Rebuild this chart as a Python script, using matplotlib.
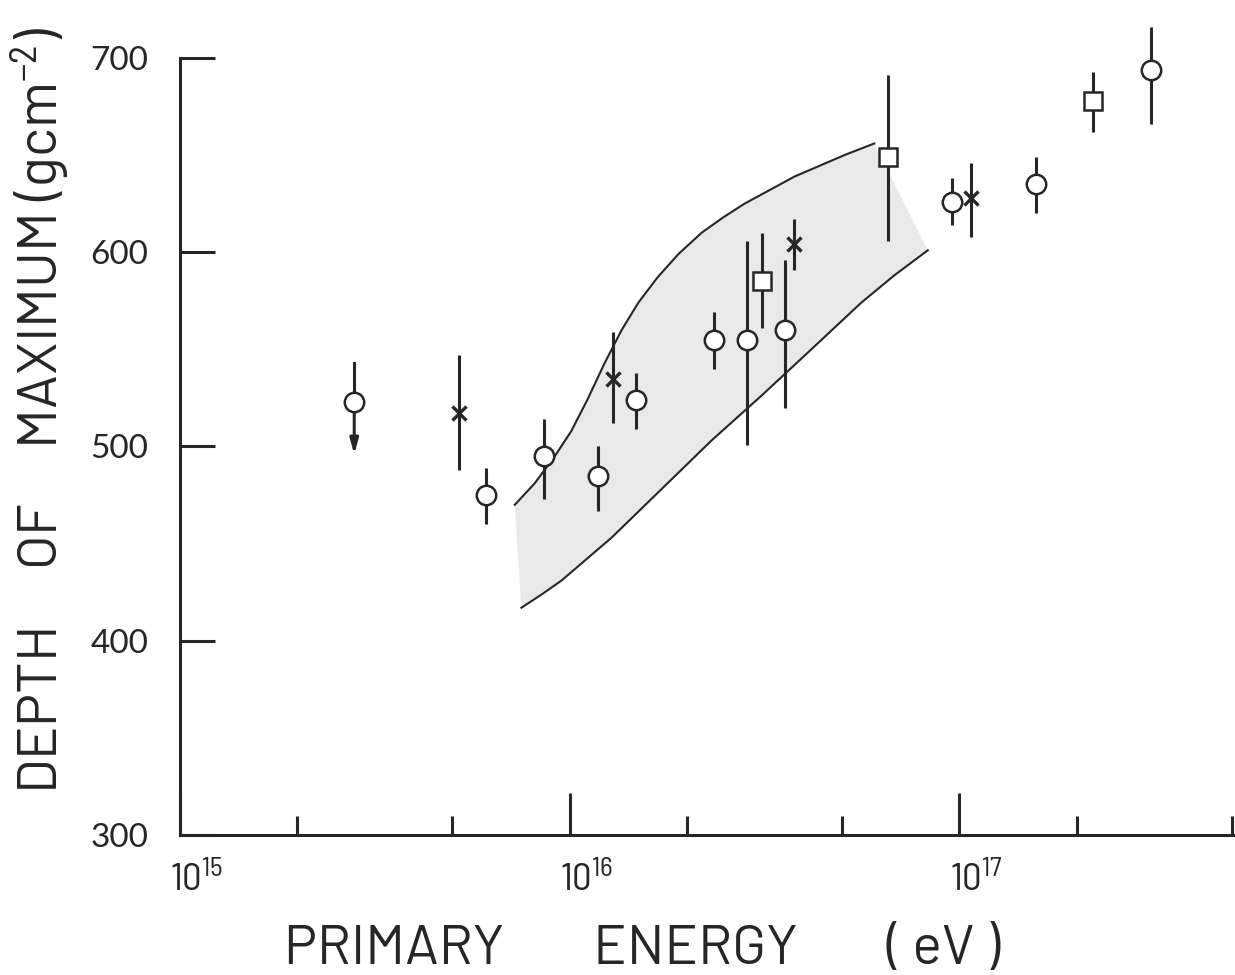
import matplotlib
matplotlib.use("Agg")
import matplotlib.pyplot as plt
from matplotlib import font_manager
from matplotlib.patches import Polygon
from matplotlib.ticker import FixedLocator, NullFormatter
from matplotlib.transforms import ScaledTranslation

# depth of shower maximum vs primary energy
# open circles
circle_E = [6.1e15, 8.6e15, 1.18e16, 1.48e16, 2.34e16, 2.86e16, 3.58e16, 9.55e16, 1.57e17, 3.11e17]
circle_X = [475, 495, 485, 524, 555, 555, 560, 626, 635, 694]
circle_hi = [489, 514, 500, 538, 569, 606, 596, 638, 649, 716]
circle_lo = [460, 473, 467, 509, 540, 501, 520, 614, 620, 666]

# upper limit (open circle with arrow)
limit_E = [2.8e15]
limit_X = [523]
limit_hi = [543]
limit_to = [496]

# crosses
cross_E = [5.2e15, 1.29e16, 3.76e16, 1.07e17]
cross_X = [517, 535, 604, 628]
cross_hi = [547, 559, 617, 646]
cross_lo = [488, 512, 591, 608]

# squares
square_E = [3.12e16, 6.55e16, 2.21e17]
square_X = [585, 649, 678]
square_hi = [610, 691, 693]
square_lo = [561, 606, 662]

# model band: upper and lower edges
band_up_E = [7.23e15, 8.13e15, 9.16e15, 1.01e16, 1.11e16, 1.23e16, 1.36e16, 1.50e16,
             1.68e16, 1.90e16, 2.18e16, 2.48e16, 2.81e16, 3.78e16, 5.07e16, 6.05e16]
band_up_X = [470, 481, 495, 508, 524, 543, 560, 574, 587, 599, 610, 618, 625, 639, 650, 656]
band_lo_E = [7.52e15, 8.5e15, 9.53e15, 1.28e16, 1.72e16, 2.31e16, 3.10e16, 4.17e16,
             5.60e16, 6.8e16, 8.30e16]
band_lo_X = [417, 424, 431, 453, 478, 503, 526, 550, 574, 588, 601]

x_major = [1e15, 1e16, 1e17]
x_major_labels = ["$10^{15}$", "$10^{16}$", "$10^{17}$"]
x_minor = [2e15, 5e15, 2e16, 5e16, 2e17, 5e17]
y_ticks = [300, 400, 500, 600, 700]

installed = {f.name for f in font_manager.fontManager.ttflist}


def pick(names):
    return next((n for n in names if n in installed), "DejaVu Sans")


narrow = pick(["Barlow Semi Condensed", "Roboto Condensed", "Liberation Sans Narrow"])
wide = pick(["Barlow", "Roboto", "Liberation Sans"])
INK = "#262626"

plt.rcParams["mathtext.fontset"] = "custom"
plt.rcParams["mathtext.rm"] = narrow
plt.rcParams["mathtext.it"] = narrow
plt.rcParams["mathtext.default"] = "rm"

fig = plt.figure(figsize=(12.35, 9.75), dpi=100)
ax = fig.add_axes([180 / 1235, 140 / 975, 1055 / 1235, 777 / 975])
ax.set_xscale("log")
ax.set_xlim(1e15, 5.1e17)
ax.set_ylim(300, 700)

# shaded band
band_pts = list(zip(band_up_E, band_up_X)) + list(zip(band_lo_E[::-1], band_lo_X[::-1]))
ax.add_patch(Polygon(band_pts, closed=True, facecolor="#e9e9e9", edgecolor="none", zorder=1))
ax.plot(band_up_E, band_up_X, color=INK, lw=1.5, zorder=2)
ax.plot(band_lo_E, band_lo_X, color=INK, lw=1.5, zorder=2)

arts = []


def draw_points(E, X, lo, hi, marker, ms, mew):
    yerr = [[x - l for x, l in zip(X, lo)], [h - x for x, h in zip(X, hi)]]
    c = ax.errorbar(E, X, yerr=yerr, fmt="none", ecolor=INK, elinewidth=2.2, capsize=0, zorder=3)
    ln, = ax.plot(E, X, linestyle="none", marker=marker, ms=ms, mew=mew,
                  mec=INK, mfc="white" if marker in ("o", "s") else INK, zorder=4)
    arts.extend(c.get_children())
    arts.append(ln)


draw_points(circle_E, circle_X, circle_lo, circle_hi, "o", 14, 1.8)
draw_points(cross_E, cross_X, cross_lo, cross_hi, "x", 10, 2.4)
draw_points(square_E, square_X, square_lo, square_hi, "s", 12.5, 1.8)

# upper-limit point
for e, x, h, t in zip(limit_E, limit_X, limit_hi, limit_to):
    ax.annotate("", xy=(e, t), xytext=(e, x),
                arrowprops=dict(arrowstyle="-|>,head_length=0.9,head_width=0.25",
                                color=INK, lw=2.2, shrinkA=0, shrinkB=0), zorder=3)
    ax.plot([e, e], [x, h], color=INK, lw=2.2, zorder=3)
ln, = ax.plot(limit_E, limit_X, linestyle="none", marker="o", ms=14, mew=1.8,
              mec=INK, mfc="white", zorder=4)
arts.append(ln)
for a in arts:
    a.set_clip_on(False)

# axes styling
for side in ("top", "right"):
    ax.spines[side].set_visible(False)
for side in ("left", "bottom"):
    ax.spines[side].set_linewidth(2.2)
    ax.spines[side].set_color(INK)

ax.xaxis.set_major_locator(FixedLocator(x_major))
ax.xaxis.set_minor_locator(FixedLocator(x_minor))
ax.xaxis.set_minor_formatter(NullFormatter())
ax.set_xticklabels(x_major_labels, family=[narrow, "DejaVu Sans"], fontsize=28, color=INK)
ax.tick_params(axis="x", which="major", direction="in", length=30, width=2.2, color=INK, pad=19)
ax.tick_params(axis="x", which="minor", direction="in", length=14, width=2.2, color=INK)
shift = ScaledTranslation(0.17, 0, fig.dpi_scale_trans)
for lab in ax.get_xticklabels():
    lab.set_transform(lab.get_transform() + shift)

ax.set_yticks(y_ticks)
ax.set_yticklabels([str(v) for v in y_ticks], family=["Lato", "DejaVu Sans"], fontsize=24, color=INK)
ax.tick_params(axis="y", direction="in", length=25, width=2.2, color=INK, pad=23)

ax.set_ylabel("DEPTH     OF     MAXIMUM (gcm$^{-2}$)", family=[wide, "DejaVu Sans"],
              fontsize=40, color=INK)
ax.yaxis.set_label_coords(-0.1035, 0.546)
ax.set_xlabel("PRIMARY        ENERGY        ( eV )", family=[wide, "DejaVu Sans"],
              fontsize=40, color=INK)
ax.xaxis.set_label_coords(0.438, -0.1158)

fig.savefig("out.png", dpi=100, facecolor="white")
